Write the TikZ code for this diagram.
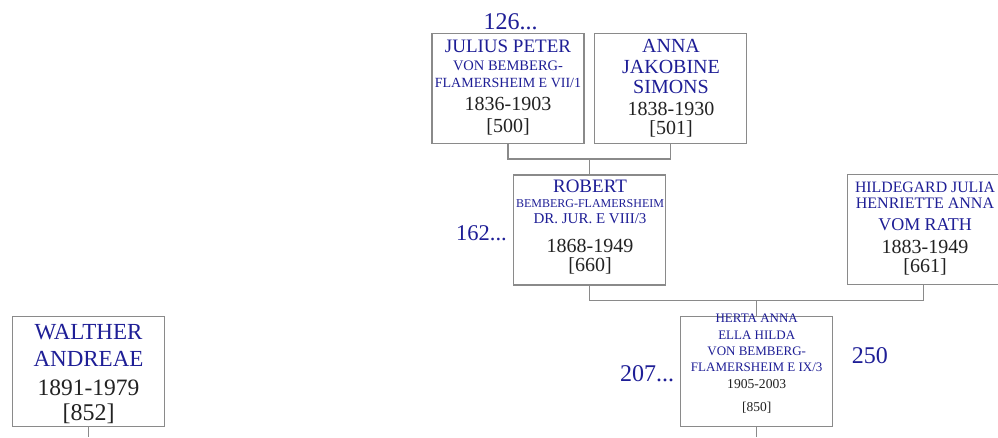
\documentclass[tikz,border=0pt]{standalone}
\usepackage{fontspec}
\setmainfont{Liberation Serif}
\usetikzlibrary{calc}

\definecolor{nameblue}{RGB}{30,30,150}
\definecolor{linegray}{RGB}{138,138,138}
\definecolor{yeargray}{RGB}{34,34,34}
\newcommand{\fsz}[1]{\fontsize{#1}{#1}\selectfont}
\newcommand{\yrs}[2]{{\color{yeargray}\fsz{#1}#2}}

\begin{document}
\begin{tikzpicture}[x=1pt,y=-1pt]
    % Style definition for the person boxes and their texts
    \tikzset{person/.style={rectangle, draw=linegray, line width=1.3pt, fill=white,
             minimum width=152pt, minimum height=110pt, inner sep=0pt},
             names/.style={anchor=north, inner sep=0pt, align=center, text=nameblue,
             font=\fontsize{10}{30}\selectfont},
             gen/.style={anchor=base west, inner sep=0pt, text=nameblue, font=\fsz{24}}}
    \tikzstyle{link} = [draw=linegray, line width=1.3pt]

    \path[use as bounding box] (0,0) rectangle (998,437);

    % Person boxes
    \node (julius) [person] at (508,88.7) {};
    \node (anna) [person] at (670.6,88.7) {};
    \node (robert) [person] at (589.5,230) {};
    \node (hildegard) [person] at (923.3,229.5) {};
    \node (herta) [person] at (756.7,371.7) {};
    \node (walther) [person] at (88.5,371.4) {};

    % Names, years and numbers inside the boxes
    \node (juliustxt) [names] at (508,40) {{\fsz{19}JULIUS PETER}\\[-12pt]{\fsz{14.5}VON BEMBERG-}\\[-13.4pt]{\fsz{14}FLAMERSHEIM E VII/1}\\[-7.3pt]\yrs{20}{1836-1903}\\[-8pt]\yrs{20}{[500]}};
    \node (annatxt) [names] at (671,38.6) {{\fsz{20}ANNA}\\[-8.3pt]{\fsz{20}JAKOBINE}\\[-10.7pt]{\fsz{20}SIMONS}\\[-8pt]\yrs{20}{1838-1930}\\[-10.8pt]\yrs{20}{[501]}};
    \node (roberttxt) [names] at (590,180) {{\fsz{19}ROBERT}\\[-15.4pt]{\fsz{12}BEMBERG-FLAMERSHEIM}\\[-14pt]{\fsz{15}DR. JUR. E VIII/3}\\[-0.6pt]\yrs{20}{1868-1949}\\[-11pt]\yrs{20}{[660]}};
    \node (hildegardtxt) [names] at (925,181.4) {{\fsz{15.8}HILDEGARD JULIA}\\[-14pt]{\fsz{16}HENRIETTE ANNA}\\[-8pt]{\fsz{18}VOM RATH}\\[-7pt]\yrs{20}{1883-1949}\\[-11pt]\yrs{20}{[661]}};
    \node (hertatxt) [names] at (756.7,313.7) {{\fsz{13}HERTA ANNA}\\[-13pt]{\fsz{13}ELLA HILDA}\\[-14.3pt]{\fsz{13}VON BEMBERG-}\\[-14pt]{\fsz{13}FLAMERSHEIM E IX/3}\\[-12.7pt]\yrs{13.6}{1905-2003}\\[-7.3pt]\yrs{13.5}{[850]}};
    \node (walthertxt) [names] at (88.5,324.1) {{\fsz{23}WALTHER}\\[-2.6pt]{\fsz{23}ANDREAE}\\[-1.7pt]\yrs{23.5}{1891-1979}\\[-5pt]\yrs{24}{[852]}};

    % Generation numbers
    \node (gen126) [gen] at (483.3,29.3) {126...};
    \node (gen162) [gen, font=\fsz{22.5}] at (456,240) {162...};
    \node (gen207) [gen] at (620,381.7) {207...};
    \node (gen250) [gen] at (851.7,363.3) {250};

    % Lines between parents and child
    \coordinate (jamid) at ($(julius.south)!.5!(anna.south)+(0,14.5)$);
    \draw [link] (julius.south) |- (jamid) -| (anna.south);
    \draw [link] (jamid) -- (jamid |- robert.north);
    \coordinate (rhmid) at ($(robert.south)!.5!(hildegard.south)+(0,15)$);
    \draw [link] (robert.south) |- (rhmid) -| (hildegard.south);
    \draw [link] (rhmid) -- (rhmid |- herta.north);
    \coordinate (hertaout) at (herta.south |- 0,437);
    \coordinate (waltherout) at (walther.south |- 0,437);
    \draw [link] (herta.south) -- (hertaout);
    \draw [link] (walther.south) -- (waltherout);

\end{tikzpicture}
\end{document}
